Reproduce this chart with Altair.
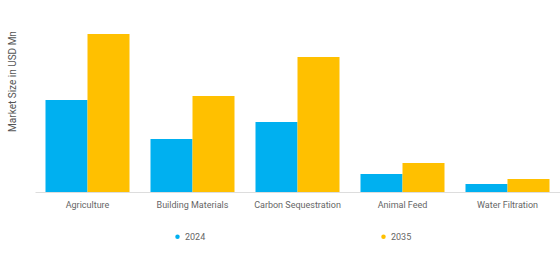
import altair as alt
import pandas as pd

categories = ["Agriculture", "Building Materials", "Carbon Sequestration", "Animal Feed", "Water Filtration"]
years = ["2024", "2035"]
values_2024 = [9.2, 5.3, 7.0, 1.8, 0.8]
values_2035 = [15.8, 9.6, 13.5, 2.9, 1.3]

rows = []
for c, a, b in zip(categories, values_2024, values_2035):
    rows.append({"Segment": c, "Year": years[0], "Value": a})
    rows.append({"Segment": c, "Year": years[1], "Value": b})
df = pd.DataFrame(rows)

font = "Roboto"

chart = alt.Chart(df).mark_bar().encode(
    x=alt.X("Segment:N", sort=categories, title=None,
            scale=alt.Scale(paddingInner=0.2, paddingOuter=0.1),
            axis=alt.Axis(labelAngle=0, labelFontSize=9, labelColor="#666666",
                          labelFont=font, labelPadding=8, ticks=False,
                          domainColor="#dddddd", labelLimit=200, zindex=1)),
    xOffset=alt.XOffset("Year:N", sort=years),
    y=alt.Y("Value:Q", scale=alt.Scale(domain=[0, 18.2], nice=False),
            title="Market Size in USD Mn",
            axis=alt.Axis(labels=False, ticks=False, domain=False, grid=False,
                          titleFont=font, titleFontSize=10, titleFontWeight="normal",
                          titleColor="#555555", titleX=-23, titleY=71,
                          titleAlign="center", titleBaseline="middle")),
    color=alt.Color("Year:N", sort=years,
                    scale=alt.Scale(domain=years, range=["#00B0F0", "#FFC000"]),
                    legend=alt.Legend(title=None, orient="none", direction="horizontal",
                                      legendX=138, legendY=222,
                                      symbolType="circle", symbolSize=20,
                                      labelFont=font, labelFontSize=9, labelColor="#666666",
                                      columnPadding=173, labelOffset=3)),
).properties(
    width=525, height=182,
    autosize=alt.AutoSizeParams(type="none"),
    padding={"left": 35, "top": 10, "right": 0, "bottom": 63},
).configure(
    background="white",
).configure_view(stroke="white", strokeWidth=2)

chart.save("out.html", embed_options={"renderer": "svg", "actions": False})
